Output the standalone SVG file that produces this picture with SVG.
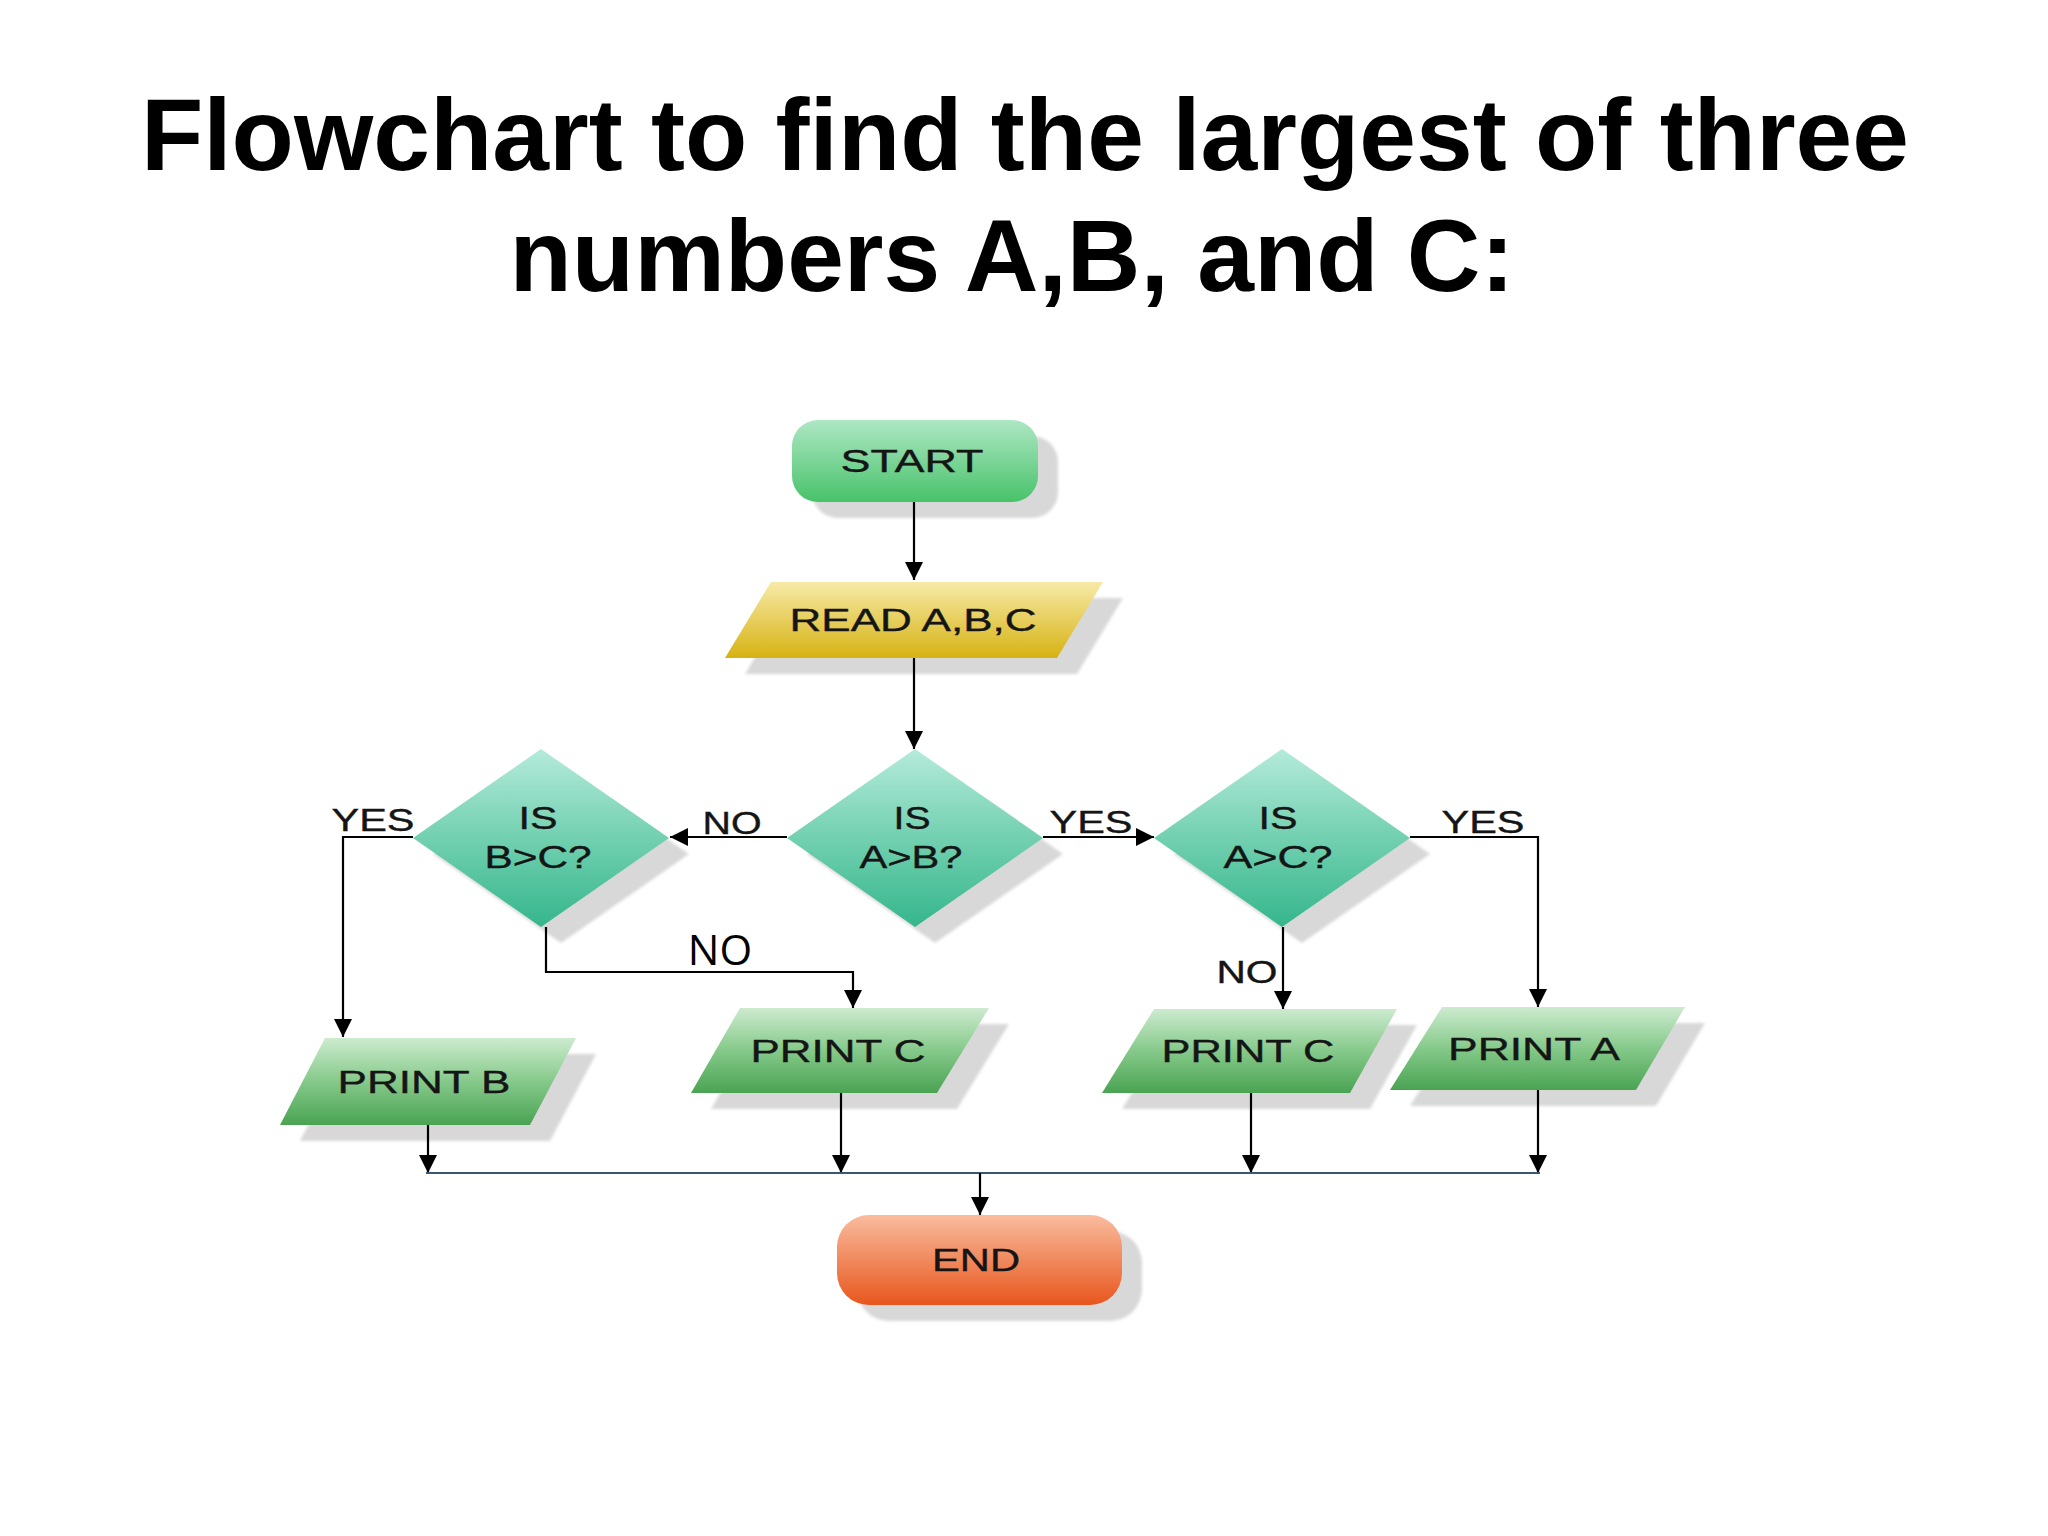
<svg xmlns="http://www.w3.org/2000/svg" width="2048" height="1536" viewBox="0 0 2048 1536">
<defs>
<linearGradient id="gStart" x1="0" y1="0" x2="0" y2="1"><stop offset="0" stop-color="#aee7c4"/><stop offset="1" stop-color="#48c26a"/></linearGradient>
<linearGradient id="gRead" x1="0" y1="0" x2="0" y2="1"><stop offset="0" stop-color="#f7eaa8"/><stop offset="1" stop-color="#d6b212"/></linearGradient>
<linearGradient id="gDia" x1="0" y1="0" x2="0" y2="1"><stop offset="0" stop-color="#b5ebdb"/><stop offset="0.5" stop-color="#72d0b0"/><stop offset="1" stop-color="#35b68c"/></linearGradient>
<linearGradient id="gPrint" x1="0" y1="0" x2="0" y2="1"><stop offset="0" stop-color="#cdebcf"/><stop offset="0.5" stop-color="#85c98a"/><stop offset="1" stop-color="#4aa352"/></linearGradient>
<linearGradient id="gEnd" x1="0" y1="0" x2="0" y2="1"><stop offset="0" stop-color="#f9bc9e"/><stop offset="1" stop-color="#e8561d"/></linearGradient>
<filter id="blur" x="-10%" y="-10%" width="120%" height="120%"><feGaussianBlur stdDeviation="1.5"/></filter>
<marker id="arr" markerUnits="userSpaceOnUse" markerWidth="18" markerHeight="18" viewBox="0 0 10 10" refX="10" refY="5" orient="auto"><path d="M0,0 L10,5 L0,10 z" fill="#000"/></marker>
</defs>
<style>
.title{font-family:"Liberation Sans",Arial,sans-serif;font-weight:bold;font-size:102px;fill:#000;text-anchor:middle}
.lbl{font-family:"Liberation Sans",Arial,sans-serif;font-size:32px;fill:#151515;text-anchor:middle;stroke:#151515;stroke-width:0.4}
.no2{font-family:"Open Sans","Liberation Sans",sans-serif;font-size:42px;fill:#000;text-anchor:middle}
.sh{fill:#d8d8d8;filter:url(#blur)}
.c{fill:none;stroke:#000;stroke-width:2.2}
.bus{fill:none;stroke:#3b5775;stroke-width:2}
</style>
<rect width="2048" height="1536" fill="#ffffff"/>
<g id="title">
<text class="title" x="1025" y="170">Flowchart to find the largest of three</text>
<text class="title" x="1012" y="291">numbers A,B, and C:</text>
</g>
<g id="start">
<rect class="sh" x="812" y="436" width="246" height="82" rx="26"/>
<rect x="792" y="420" width="246" height="82" rx="26" fill="url(#gStart)"/>
<text class="lbl" x="912" y="472" font-size="33" textLength="143" lengthAdjust="spacingAndGlyphs">START</text>
</g>
<g id="read">
<polygon class="sh" points="791,598 1123,598 1077,674 745,674"/>
<polygon points="771,582 1103,582 1057,658 725,658" fill="url(#gRead)"/>
<text class="lbl" x="913" y="631" textLength="247" lengthAdjust="spacingAndGlyphs">READ A,B,C</text>
</g>
<g id="isAB">
<polygon class="sh" points="935,765 1063,854 935,943 807,854"/>
<polygon points="915,749 1043,838 915,927 787,838" fill="url(#gDia)"/>
<text class="lbl" x="912" y="829" textLength="37" lengthAdjust="spacingAndGlyphs">IS</text>
<text class="lbl" x="911" y="868" textLength="103" lengthAdjust="spacingAndGlyphs">A&gt;B?</text>
</g>
<g id="isBC">
<polygon class="sh" points="561,765 689,854 561,943 433,854"/>
<polygon points="541,749 669,838 541,927 413,838" fill="url(#gDia)"/>
<text class="lbl" x="538" y="829" textLength="39" lengthAdjust="spacingAndGlyphs">IS</text>
<text class="lbl" x="538" y="868" textLength="107" lengthAdjust="spacingAndGlyphs">B&gt;C?</text>
</g>
<g id="isAC">
<polygon class="sh" points="1302,765 1430,854 1302,943 1174,854"/>
<polygon points="1282,749 1410,838 1282,927 1154,838" fill="url(#gDia)"/>
<text class="lbl" x="1278" y="829" textLength="39" lengthAdjust="spacingAndGlyphs">IS</text>
<text class="lbl" x="1278" y="868" textLength="109" lengthAdjust="spacingAndGlyphs">A&gt;C?</text>
</g>
<g id="printB">
<polygon class="sh" points="345,1054 596,1054 550,1141 300,1141"/>
<polygon points="325,1038 576,1038 530,1125 280,1125" fill="url(#gPrint)"/>
<text class="lbl" x="424" y="1093" textLength="173" lengthAdjust="spacingAndGlyphs">PRINT B</text>
</g>
<g id="printC1">
<polygon class="sh" points="760,1024 1009,1024 957,1109 711,1109"/>
<polygon points="740,1008 989,1008 937,1093 691,1093" fill="url(#gPrint)"/>
<text class="lbl" x="838" y="1062" textLength="175" lengthAdjust="spacingAndGlyphs">PRINT C</text>
</g>
<g id="printC2">
<polygon class="sh" points="1174,1025 1417,1025 1370,1109 1122,1109"/>
<polygon points="1154,1009 1397,1009 1350,1093 1102,1093" fill="url(#gPrint)"/>
<text class="lbl" x="1248" y="1062" textLength="173" lengthAdjust="spacingAndGlyphs">PRINT C</text>
</g>
<g id="printA">
<polygon class="sh" points="1462,1023 1705,1023 1656,1106 1410,1106"/>
<polygon points="1442,1007 1685,1007 1636,1090 1390,1090" fill="url(#gPrint)"/>
<text class="lbl" x="1534" y="1060" textLength="172" lengthAdjust="spacingAndGlyphs">PRINT A</text>
</g>
<g id="end">
<rect class="sh" x="857" y="1231" width="285" height="90" rx="32"/>
<rect x="837" y="1215" width="285" height="90" rx="32" fill="url(#gEnd)"/>
<text class="lbl" x="976" y="1271" font-size="33" textLength="88" lengthAdjust="spacingAndGlyphs">END</text>
</g>
<g id="connectors">
<path class="c" d="M914,502 V580" marker-end="url(#arr)"/>
<path class="c" d="M914,658 V749" marker-end="url(#arr)"/>
<path class="c" d="M787,837 H670" marker-end="url(#arr)"/>
<path class="c" d="M1043,837 H1154" marker-end="url(#arr)"/>
<path class="c" d="M413,837 H343 V1037" marker-end="url(#arr)"/>
<path class="c" d="M546,927 V972 H853 V1008" marker-end="url(#arr)"/>
<path class="c" d="M1283,927 V1009" marker-end="url(#arr)"/>
<path class="c" d="M1410,837 H1538 V1007" marker-end="url(#arr)"/>
<path class="c" d="M428,1125 V1173" marker-end="url(#arr)"/>
<path class="c" d="M841,1093 V1173" marker-end="url(#arr)"/>
<path class="c" d="M1251,1093 V1173" marker-end="url(#arr)"/>
<path class="c" d="M1538,1090 V1173" marker-end="url(#arr)"/>
<path class="bus" d="M426,1173 H1540"/>
<path class="c" d="M980,1173 V1215" marker-end="url(#arr)"/>
<text class="lbl" x="373" y="831" textLength="83" lengthAdjust="spacingAndGlyphs">YES</text>
<text class="lbl" x="732" y="834" textLength="59" lengthAdjust="spacingAndGlyphs">NO</text>
<text class="lbl" x="1091" y="833" textLength="83" lengthAdjust="spacingAndGlyphs">YES</text>
<text class="lbl" x="1483" y="833" textLength="83" lengthAdjust="spacingAndGlyphs">YES</text>
<text class="no2" x="720" y="965">NO</text>
<text class="lbl" x="1247" y="983" textLength="61" lengthAdjust="spacingAndGlyphs">NO</text>
</g>
</svg>
